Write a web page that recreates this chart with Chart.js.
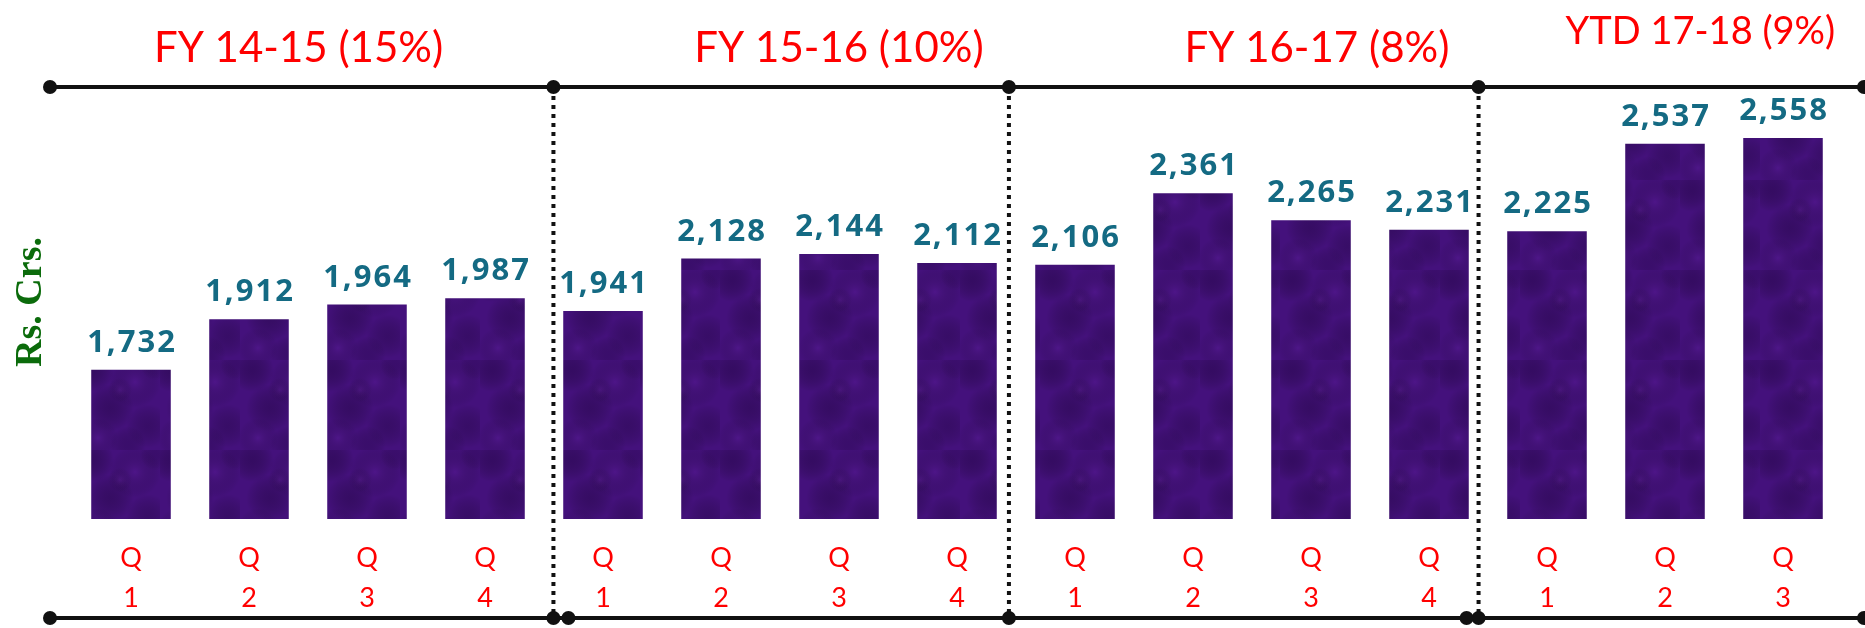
<!DOCTYPE html>
<html>
<head>
<meta charset="utf-8">
<title>Quarterly revenue</title>
<script src="https://cdn.jsdelivr.net/npm/chart.js@4/dist/chart.umd.min.js"></script>
<style>
    html, body { margin: 0; padding: 0; background: #ffffff; }
    canvas { display: block; }
</style>
</head>
<body>
<canvas id="myChart" width="1865" height="628"></canvas>
<script>
// quarter labels, two lines each (Q / number)
const quarters = [
    ['Q', '1'], ['Q', '2'], ['Q', '3'], ['Q', '4'],
    ['Q', '1'], ['Q', '2'], ['Q', '3'], ['Q', '4'],
    ['Q', '1'], ['Q', '2'], ['Q', '3'], ['Q', '4'],
    ['Q', '1'], ['Q', '2'], ['Q', '3']
];
const revenue = [1732, 1912, 1964, 1987, 1941, 2128, 2144, 2112, 2106, 2361, 2265, 2231, 2225, 2537, 2558];
const periodTitles = ['FY 14-15 (15%)', 'FY 15-16 (10%)', 'FY 16-17 (8%)', 'YTD 17-18 (9%)'];
const yAxisTitle = 'Rs. Crs.';

const RED = '#ff0000';
const TEAL = '#146a83';
const INK = '#111111';

// where the dotted separators and the period titles sit, in category units
const breakAt = [3.58, 7.44, 11.42];
const titleAt = [1.42, 6.0, 10.05, 13.3];

// mottled purple fill for the bars
const makeTexture = () => {
    const c = document.createElement('canvas');
    c.width = 80;
    c.height = 90;
    const g = c.getContext('2d');
    g.fillStyle = '#44117c';
    g.fillRect(0, 0, 80, 90);
    const blobs = [
        [12, 10, 22, 'rgba(30,4,60,0.40)'], [55, 22, 26, 'rgba(95,30,160,0.35)'],
        [30, 48, 24, 'rgba(28,4,55,0.35)'], [68, 66, 22, 'rgba(28,4,55,0.30)'],
        [18, 78, 20, 'rgba(100,35,165,0.30)'], [48, 84, 18, 'rgba(35,6,70,0.30)'],
        [75, 5, 15, 'rgba(35,6,70,0.30)'], [40, 30, 12, 'rgba(110,40,170,0.25)']
    ];
    blobs.forEach(([x, y, r, col]) => {
        const rg = g.createRadialGradient(x, y, 0, x, y, r);
        rg.addColorStop(0, col);
        rg.addColorStop(1, 'rgba(0,0,0,0)');
        g.fillStyle = rg;
        g.fillRect(0, 0, 80, 90);
    });
    return g.createPattern(c, 'repeat');
}

const dot = (ctx, x, y) => {
    ctx.beginPath();
    ctx.arc(x, y, 7, 0, Math.PI * 2);
    ctx.fill();
}

const framePlugin = {
    id: 'frame',
    afterDraw(chart) {
        const ctx = chart.ctx;
        const x = chart.scales.x;
        const area = chart.chartArea;
        const topY = area.top + 17;
        const botY = chart.height - 10;
        const breaks = breakAt.map(b => x.getPixelForValue(b));
        const stops = [area.left - 22, ...breaks, chart.width - 1];

        ctx.save();
        ctx.strokeStyle = INK;
        ctx.fillStyle = INK;
        ctx.lineWidth = 4;

        // top and bottom rails
        [topY, botY].forEach(y => {
            ctx.beginPath();
            ctx.moveTo(stops[0], y);
            ctx.lineTo(stops[stops.length - 1], y);
            ctx.stroke();
        });
        stops.forEach(s => dot(ctx, s, topY));
        stops.forEach(s => dot(ctx, s, botY));
        dot(ctx, breaks[0] + 15, botY);
        dot(ctx, breaks[2] - 12, botY);

        // dotted separators between the years
        ctx.setLineDash([4, 5]);
        breaks.forEach(b => {
            ctx.beginPath();
            ctx.moveTo(b, topY);
            ctx.lineTo(b, botY);
            ctx.stroke();
        });
        ctx.setLineDash([]);

        // period titles
        ctx.fillStyle = RED;
        ctx.textAlign = 'center';
        ctx.textBaseline = 'middle';
        periodTitles.forEach((t, i) => {
            const last = i === periodTitles.length - 1;
            ctx.font = (last ? '38px' : '42px') + ' Lato';
            ctx.fillText(t, x.getPixelForValue(titleAt[i]), last ? area.top - 38 : area.top - 22);
        });

        // y axis title
        ctx.save();
        ctx.translate(31, area.top + 232);
        ctx.rotate(-Math.PI / 2);
        ctx.fillStyle = '#0b6b0b';
        ctx.font = 'bold 38px "Liberation Serif"';
        ctx.fillText(yAxisTitle, 0, 0);
        ctx.restore();

        // value labels above bars
        ctx.fillStyle = TEAL;
        ctx.font = 'bold 31px "Open Sans"';
        ctx.letterSpacing = '2px';
        ctx.textBaseline = 'alphabetic';
        chart.getDatasetMeta(0).data.forEach((bar, i) => {
            ctx.fillText(revenue[i].toLocaleString('en-US'), bar.x + 1, bar.y - 18);
        });
        ctx.letterSpacing = '0px';
        ctx.restore();
    }
}

const ctx = document.getElementById('myChart');
new Chart(ctx, {
    type: 'bar',
    data: {
        labels: quarters,
        datasets: [{
            label: yAxisTitle,
            data: revenue,
            backgroundColor: makeTexture(),
            borderWidth: 0,
            categoryPercentage: 1,
            barPercentage: 0.674
        }]
    },
    options: {
        responsive: false,
        animation: false,
        layout: {
            padding: { left: 72, right: 23, top: 70, bottom: 0 }
        },
        plugins: {
            legend: { display: false },
            tooltip: { enabled: false }
        },
        scales: {
            x: {
                grid: { display: false, drawTicks: false },
                border: { display: false },
                ticks: {
                    color: RED,
                    font: { family: 'Lato', size: 27, lineHeight: 1.48 },
                    padding: 19,
                    autoSkip: false,
                    maxRotation: 0
                },
                afterFit: (scale) => { scale.height = 109; }
            },
            y: {
                display: false,
                min: 1200,
                max: 2800
            }
        }
    },
    plugins: [framePlugin]
});
</script>
</body>
</html>
